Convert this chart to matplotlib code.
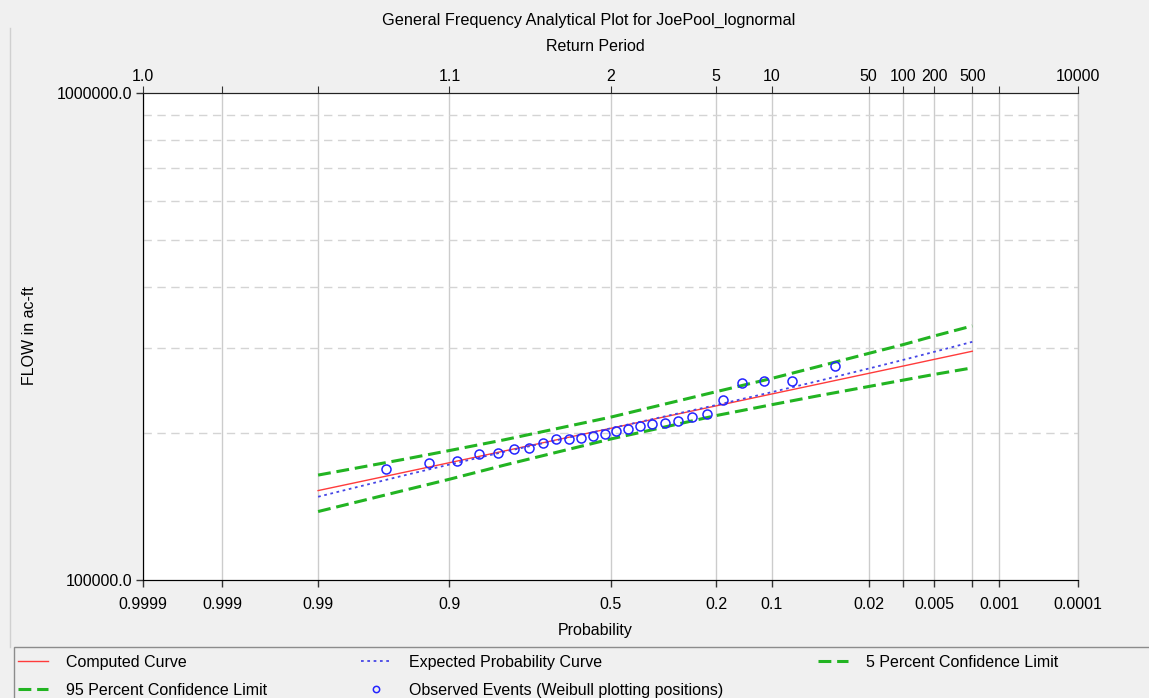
import numpy as np
import matplotlib
matplotlib.use('agg')
from matplotlib import pyplot as plt
from matplotlib.patches import Rectangle
from matplotlib.lines import Line2D
from statistics import NormalDist

plt.rcParams['font.family'] = ['Liberation Sans', 'DejaVu Sans']

# exceedance probabilities where the frequency curves are tabulated
curve_prob = [0.99, 0.95, 0.9, 0.8, 0.5, 0.2, 0.1, 0.05, 0.02, 0.01, 0.005, 0.002]
computed = [152600, 166300, 174100, 184100, 204800, 227800, 240900, 252200,
            265600, 274900, 283800, 294900]
expected = [148200, 163900, 172600, 183400, 204800, 228700, 243000, 255900,
            271700, 283000, 294100, 308300]
conf_05 = [164200, 176900, 184400, 194100, 215900, 243600, 259300, 274000,
           291900, 304200, 317000, 332400]
conf_95 = [138200, 152700, 161000, 172200, 194700, 217600, 229000, 238700,
           249600, 257200, 264300, 272600]

# observed annual peaks with Weibull plotting positions
obs_prob = [0.0370, 0.0741, 0.1111, 0.1481, 0.1852, 0.2222, 0.2593, 0.2963,
            0.3333, 0.3704, 0.4074, 0.4444, 0.4815, 0.5185, 0.5556, 0.5926,
            0.6296, 0.6667, 0.7037, 0.7407, 0.7778, 0.8148, 0.8519, 0.8889,
            0.9259, 0.9630]
obs_flow = [275400, 255900, 255900, 253400, 233900, 218900, 216400, 212400,
            209900, 208900, 207400, 204200, 202000, 199500, 197900, 195600,
            195200, 194800, 191100, 187000, 186100, 182600, 181700, 175800,
            174100, 168800]

tick_prob = [0.9999, 0.999, 0.99, 0.9, 0.5, 0.2, 0.1, 0.02, 0.01, 0.005,
             0.002, 0.001, 0.0001]
prob_labels = ['0.9999', '0.999', '0.99', '0.9', '0.5', '0.2', '0.1', '0.02',
               '', '0.005', '', '0.001', '0.0001']
period_labels = ['1.0', '', '', '1.1', '2', '5', '10', '50', '100', '200',
                 '500', '', '10000']

_nd = NormalDist()
_inv = np.vectorize(lambda p: _nd.inv_cdf(min(max(p, 1e-12), 1 - 1e-12)),
                    otypes=[float])
_cdf = np.vectorize(lambda z: _nd.cdf(z), otypes=[float])


def forward(p):
    return _inv(np.asarray(p, dtype=float))


def inverse(z):
    return _cdf(np.asarray(z, dtype=float))


bg = '#f0f0f0'
fig = plt.figure(figsize=(11.49, 6.98), dpi=100, facecolor=bg)
ax = fig.add_axes([0.1245, 0.1691, 0.8137, 0.6977])
ax.set_facecolor('white')

ax.set_xscale('function', functions=(forward, inverse))
ax.set_yscale('log')
ax.set_xlim(0.9999, 0.0001)
ax.set_ylim(100000, 1000000)

green = '#22b422'
l_comp, = ax.plot(curve_prob, computed, color='#ff3b3b', lw=1.0, zorder=4)
l_exp, = ax.plot(curve_prob, expected, color='#4646e6', lw=1.3,
                 linestyle=(0, (1.5, 2.0)), zorder=4)
l_05, = ax.plot(curve_prob, conf_05, color=green, lw=2.2,
                linestyle=(0, (4.2, 1.9)), zorder=3)
l_95, = ax.plot(curve_prob, conf_95, color=green, lw=2.2,
                linestyle=(0, (4.2, 1.9)), zorder=3)
l_obs, = ax.plot(obs_prob, obs_flow, 'o', mfc='none', mec='#2424ff',
                 mew=1.1, ms=6.5, zorder=5)

ax.set_xticks(tick_prob)
ax.set_xticklabels(prob_labels)
ax.xaxis.set_minor_locator(matplotlib.ticker.NullLocator())
ax.set_yticks([100000, 1000000])
ax.set_yticklabels(['100000.0', '1000000.0'])
ax.yaxis.set_minor_formatter(matplotlib.ticker.NullFormatter())
ax.tick_params(axis='both', which='major', labelsize=11.5, length=5,
               width=1, color='#333333', pad=3)
ax.tick_params(axis='y', which='minor', length=0)
ax.tick_params(axis='x', pad=7)

ax.grid(axis='x', which='major', color='#cccccc', lw=1)
ax.grid(axis='y', which='minor', color='#d4d4d4', lw=1, linestyle=(0, (6, 4)))
ax.set_axisbelow(True)

for side in ['top', 'left', 'bottom']:
    ax.spines[side].set_color('#222222')
ax.spines['right'].set_color('#c8c8c8')

top = ax.twiny()
top.set_xscale('function', functions=(forward, inverse))
top.set_xlim(ax.get_xlim())
top.set_xticks(tick_prob)
top.set_xticklabels(period_labels)
top.xaxis.set_minor_locator(matplotlib.ticker.NullLocator())
top.tick_params(axis='x', labelsize=11.5, length=5, color='#333333', pad=1.5)
top.spines['top'].set_color('#222222')
top.spines['right'].set_color('#c8c8c8')

fig.text(0.5126, 0.9713, 'General Frequency Analytical Plot for JoePool_lognormal',
         ha='center', va='center', fontsize=11.7)
fig.text(0.518, 0.9327, 'Return Period', ha='center', va='center', fontsize=11.5)
fig.text(0.518, 0.0974, 'Probability', ha='center', va='center', fontsize=11.5)
fig.text(0.026, 0.519, 'FLOW in ac-ft', ha='center', va='center',
         rotation=90, fontsize=11.5)

# legend panel
fig.patches.append(Rectangle((0.0122, -0.01), 1.0, 0.0825,
                             transform=fig.transFigure, facecolor=bg,
                             edgecolor='#8c8c8c', lw=1))
fig.add_artist(Line2D([0.0087, 0.0087], [0.073, 0.96], color='#d0d0d0',
                      lw=1, transform=fig.transFigure))

handles = [l_comp, l_95, l_exp, l_obs, l_05]
labels = ['Computed Curve', '95 Percent Confidence Limit',
          'Expected Probability Curve',
          'Observed Events (Weibull plotting positions)',
          '5 Percent Confidence Limit']
fig.legend(handles, labels, ncol=3, loc='upper left',
           bbox_to_anchor=(0.0157, 0.0, 0.905, 0.0615), mode='expand',
           frameon=False, fontsize=11.5, handlelength=1.9, handletextpad=1.1,
           borderaxespad=0, borderpad=0.0, labelspacing=0.78,
           markerscale=0.7)

fig.savefig('out.png', dpi=100, facecolor=bg)
